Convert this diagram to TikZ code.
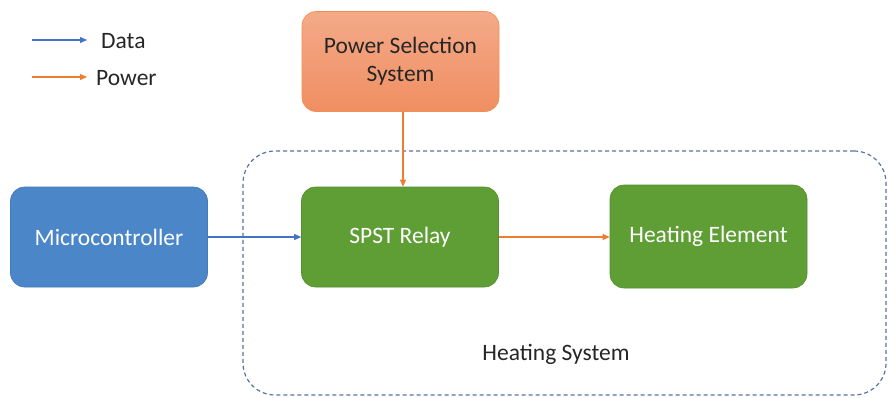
\documentclass[tikz,border=0pt]{standalone}
\usepackage{fontspec}
\setmainfont{Carlito}
\usetikzlibrary{arrows.meta}
\definecolor{dataBlue}{HTML}{4472C4}
\definecolor{powOr}{HTML}{ED7D31}
\definecolor{boxBlue}{HTML}{4A86C8}
\definecolor{boxGreen}{HTML}{5E9E35}
\definecolor{orTop}{HTML}{F4AA88}
\definecolor{orBot}{HTML}{F08E62}
\definecolor{dashC}{HTML}{5A72A0}
\tikzset{
  blk/.style={rounded corners=14pt, minimum width=197pt, minimum height=100pt, align=center, font=\fontsize{23.5}{28}\selectfont, inner sep=0pt},
  bluebox/.style={blk, fill=boxBlue, draw=boxBlue!90!black, line width=0.6pt, text=white},
  greenbox/.style={blk, fill=boxGreen, draw=boxGreen!90!black, line width=0.6pt, text=white},
  orbox/.style={blk, top color=orTop, bottom color=orBot, draw=powOr!85!white, line width=0.6pt, text=black!85},
  dataarr/.style={draw=dataBlue, line width=1.1pt, -{Triangle[length=7pt,width=6pt]}},
  powarr/.style={draw=powOr, line width=1.1pt, -{Triangle[length=7pt,width=6pt]}},
  legtxt/.style={font=\fontsize{23.5}{28}\selectfont, text=black!85, anchor=west, inner sep=0pt},
  lbl/.style={font=\fontsize{23.5}{28}\selectfont, text=black!85, inner sep=0pt}
}
\begin{document}
\begin{tikzpicture}[x=1pt,y=-1pt]
\useasboundingbox (0,0) rectangle (888,397);
% container
\node[draw=dashC, dash pattern=on 4pt off 3pt, line width=1.2pt, rounded corners=32pt, minimum width=643pt, minimum height=244pt, inner sep=0pt] (hs) at (564.5,273) {};
\node[lbl] (hslbl) at (556,354) {Heating System};
% boxes
\node[orbox] (pss) at (400.5,61.5) {Power Selection\\System};
\node[bluebox] (mc) at (109,237) {Microcontroller};
\node[greenbox] (relay) at (400,237) {SPST Relay};
\node[greenbox, minimum height=103pt] (he) at (708.5,236.5) {Heating Element};
% connectors
\draw[dataarr] (mc.east) -- (relay.west);
\draw[powarr] (relay.east) -- (he.west |- relay.east);
\draw[powarr] (pss.south -| 403,0) -- (relay.north -| 403,0);
% legend
\coordinate (d1) at (32,40);
\coordinate (d2) at (87,40);
\coordinate (p1) at (32,77);
\coordinate (p2) at (87,77);
\draw[dataarr] (d1) -- (d2);
\draw[powarr] (p1) -- (p2);
\node[legtxt] (dl) at (101,41) {Data};
\node[legtxt] (pl) at (96,78) {Power};
\end{tikzpicture}
\end{document}
